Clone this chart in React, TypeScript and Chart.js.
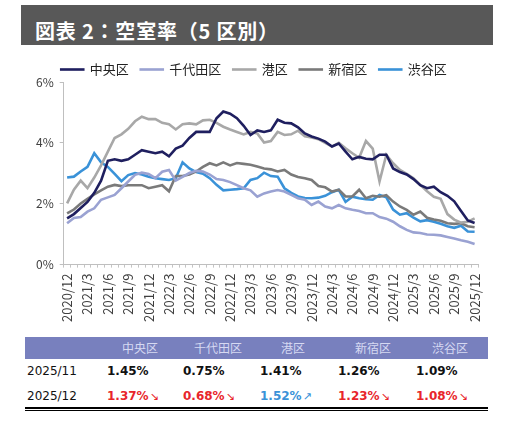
import { useEffect, useRef } from "react";
import { Chart, registerables } from "chart.js";

Chart.register(...registerables);

const FONT = '"Noto Sans CJK JP", "Noto Sans", sans-serif';
const NUM_FONT = '"DejaVu Sans", Verdana, sans-serif';

// 月次ラベル（2020/12〜2025/12）
const months = [
  "2020/12",
  "2021/1", "2021/2", "2021/3", "2021/4", "2021/5", "2021/6", "2021/7", "2021/8", "2021/9", "2021/10", "2021/11", "2021/12",
  "2022/1", "2022/2", "2022/3", "2022/4", "2022/5", "2022/6", "2022/7", "2022/8", "2022/9", "2022/10", "2022/11", "2022/12",
  "2023/1", "2023/2", "2023/3", "2023/4", "2023/5", "2023/6", "2023/7", "2023/8", "2023/9", "2023/10", "2023/11", "2023/12",
  "2024/1", "2024/2", "2024/3", "2024/4", "2024/5", "2024/6", "2024/7", "2024/8", "2024/9", "2024/10", "2024/11", "2024/12",
  "2025/1", "2025/2", "2025/3", "2025/4", "2025/5", "2025/6", "2025/7", "2025/8", "2025/9", "2025/10", "2025/11", "2025/12",
];

const wards = ["中央区", "千代田区", "港区", "新宿区", "渋谷区"];
const colors = ["#1f1f5f", "#9aa2d2", "#a8a8a8", "#7a7a7a", "#3a92d8"];

const chuo = [
  1.52, 1.66, 1.86, 2.06, 2.36, 2.76, 3.41, 3.46, 3.41, 3.46, 3.61, 3.76, 3.71,
  3.66, 3.71, 3.56, 3.81, 3.91, 4.16, 4.36, 4.36, 4.36, 4.81, 5.03, 4.96,
  4.81, 4.56, 4.26, 4.41, 4.36, 4.41, 4.76, 4.66, 4.64, 4.51, 4.31, 4.21,
  4.14, 4.04, 3.88, 3.98, 3.71, 3.46, 3.54, 3.48, 3.46, 3.61, 3.61, 3.16,
  3.04, 2.96, 2.81, 2.61, 2.51, 2.56, 2.38, 2.26, 2.08, 1.76, 1.45, 1.37,
];
const chiyoda = [
  1.36, 1.53, 1.56, 1.74, 1.85, 2.13, 2.21, 2.29, 2.51, 2.73, 2.95, 3.02, 2.98,
  2.84, 3.05, 3.11, 2.76, 2.88, 3.01, 3.08, 3.06, 2.96, 2.81, 2.78, 2.71,
  2.61, 2.51, 2.44, 2.23, 2.34, 2.4, 2.45, 2.4, 2.29, 2.18, 2.13, 1.96,
  2.07, 1.91, 1.85, 1.96, 1.85, 1.8, 1.76, 1.69, 1.69, 1.56, 1.51, 1.41,
  1.26, 1.14, 1.06, 1.04, 0.99, 0.98, 0.96, 0.91, 0.86, 0.8, 0.75, 0.68,
];
const minato = [
  2.01, 2.46, 2.76, 2.51, 2.86, 3.26, 3.71, 4.16, 4.28, 4.46, 4.71, 4.86, 4.78,
  4.78, 4.66, 4.61, 4.44, 4.61, 4.64, 4.61, 4.74, 4.76, 4.66, 4.53, 4.44,
  4.36, 4.28, 4.36, 4.31, 4.01, 4.06, 4.36, 4.26, 4.28, 4.4, 4.22, 4.18,
  4.12, 4.0, 3.88, 4.0, 3.82, 3.66, 3.51, 4.06, 3.81, 2.73, 3.61, 3.33,
  3.11, 2.98, 2.84, 2.62, 2.41, 2.23, 2.16, 1.66, 1.48, 1.38, 1.41, 1.52,
];
const shinjuku = [
  1.68, 1.81, 2.01, 2.16, 2.31, 2.44, 2.56, 2.62, 2.58, 2.61, 2.61, 2.61, 2.51,
  2.56, 2.61, 2.41, 2.91, 2.91, 2.96, 3.06, 3.21, 3.33, 3.26, 3.36, 3.26,
  3.34, 3.31, 3.28, 3.22, 3.16, 3.13, 3.06, 3.11, 2.96, 2.88, 2.84, 2.78,
  2.58, 2.54, 2.4, 2.46, 2.24, 2.24, 2.46, 2.18, 2.26, 2.23, 2.28, 2.07,
  1.91, 1.8, 1.64, 1.74, 1.54, 1.48, 1.44, 1.36, 1.34, 1.36, 1.26, 1.23,
];
const shibuya = [
  2.86, 2.89, 3.06, 3.21, 3.66, 3.36, 3.21, 2.98, 2.74, 2.94, 3.01, 2.96, 2.89,
  2.84, 2.81, 2.78, 2.84, 3.36, 3.16, 3.04, 2.99, 2.84, 2.62, 2.44, 2.46,
  2.48, 2.51, 2.78, 2.84, 3.02, 2.91, 2.89, 2.51, 2.36, 2.24, 2.19, 2.18,
  2.2, 2.26, 2.38, 2.46, 2.06, 2.23, 2.18, 2.15, 2.13, 2.29, 2.21, 1.81,
  1.64, 1.69, 1.54, 1.42, 1.46, 1.41, 1.34, 1.26, 1.21, 1.28, 1.09, 1.08,
];
const series = [chuo, chiyoda, minato, shinjuku, shibuya];

// 表
const prevLabel = "2025/11";
const prevValues = [1.45, 0.75, 1.41, 1.26, 1.09];
const currLabel = "2025/12";
const currValues = [1.37, 0.68, 1.52, 1.23, 1.08];

const headerCenters = [140, 218, 293, 373, 450];
const valueLefts = [107, 183, 260, 338, 416];

export default function App() {
  const ref = useRef<HTMLCanvasElement>(null);

  useEffect(() => {
    if (!ref.current) return;
    const chart = new Chart(ref.current, {
      type: "line",
      data: {
        labels: months,
        datasets: series.map((d, i) => ({
          label: wards[i],
          data: d,
          borderColor: colors[i],
          backgroundColor: colors[i],
          borderWidth: 2.6,
          pointRadius: 0,
          tension: 0,
        })),
      },
      options: {
        animation: false,
        responsive: true,
        maintainAspectRatio: false,
        layout: { padding: { left: 30, right: 32, top: 0, bottom: 0 } },
        plugins: {
          legend: {
            position: "top",
            maxHeight: 31,
            labels: { boxWidth: 22, boxHeight: 0.01, padding: 12, color: "#222", font: { family: FONT, size: 13 } },
          },
          tooltip: { enabled: false },
        },
        scales: {
          x: {
            offset: true,
            grid: { display: true, drawOnChartArea: false, tickLength: 3, color: "#c4c4c4", offset: true },
            border: { color: "#bfbfbf" },
            ticks: {
              autoSkip: false,
              maxRotation: 90,
              minRotation: 90,
              padding: 6,
              color: "#404040",
              font: { family: FONT, size: 13 },
              callback: (_v, i) => (i % 3 === 0 ? months[i] : ""),
            },
          },
          y: {
            min: 0,
            max: 6,
            ticks: { stepSize: 2, padding: 6, color: "#404040", font: { family: FONT, size: 12 }, callback: (v) => `${v}%` },
            grid: { drawOnChartArea: false, tickLength: 4, color: "#bfbfbf" },
            border: { color: "#bfbfbf" },
          },
        },
      },
    });
    return () => chart.destroy();
  }, []);

  return (
    <div style={{ position: "fixed", left: 0, top: 0, width: 510, height: 425, background: "#fff", overflow: "hidden" }}>
      {/* タイトル帯 */}
      <div style={{ position: "absolute", left: 21, top: 5, width: 472, height: 40, background: "#585858" }}>
        <div
          style={{
            position: "absolute",
            left: 14,
            top: 15,
            lineHeight: "22px",
            fontFamily: FONT,
            fontWeight: 700,
            fontSize: 20,
            letterSpacing: 0.8,
            color: "#fff",
            whiteSpace: "nowrap",
          }}
        >
          図表 2：空室率（5 区別）
        </div>
      </div>

      <div style={{ position: "absolute", left: 0, top: 51, width: 510, height: 277 }}>
        <canvas ref={ref} />
      </div>

      {/* 表 */}
      <div style={{ position: "absolute", left: 25, top: 337, width: 463, height: 22, background: "#7880be" }} />
      {wards.map((w, i) => (
        <div
          key={w}
          style={{
            position: "absolute",
            left: headerCenters[i] - 40,
            top: 337,
            width: 80,
            lineHeight: "22px",
            textAlign: "center",
            fontFamily: FONT,
            fontSize: 12,
            color: "#d6d9f2",
          }}
        >
          {w}
        </div>
      ))}
      <Row top={362} label={prevLabel} values={prevValues} />
      <Row top={387} label={currLabel} values={currValues} prev={prevValues} />
      <div style={{ position: "absolute", left: 25, top: 407, width: 463, height: 2, background: "#000" }} />
      <div style={{ position: "absolute", left: 25, top: 410, width: 463, height: 1, background: "#000" }} />
    </div>
  );
}

function Row({ top, label, values, prev }: { top: number; label: string; values: number[]; prev?: number[] }) {
  return (
    <>
      <div style={{ position: "absolute", left: 27, top, lineHeight: "18px", fontFamily: NUM_FONT, fontSize: 12, color: "#111" }}>
        {label}
      </div>
      {values.map((v, i) => {
        const up = prev ? v > prev[i] : false;
        const color = prev ? (up ? "#3a92d8" : "#e8252b") : "#111";
        return (
          <div
            key={i}
            style={{
              position: "absolute",
              left: valueLefts[i],
              top,
              lineHeight: "18px",
              fontFamily: NUM_FONT,
              fontSize: 12,
              fontWeight: 700,
              color,
              whiteSpace: "nowrap",
            }}
          >
            {v.toFixed(2)}%
            {prev && <span style={{ fontWeight: 400, fontSize: 11, marginLeft: 1 }}>{up ? "↗" : "↘"}</span>}
          </div>
        );
      })}
    </>
  );
}
